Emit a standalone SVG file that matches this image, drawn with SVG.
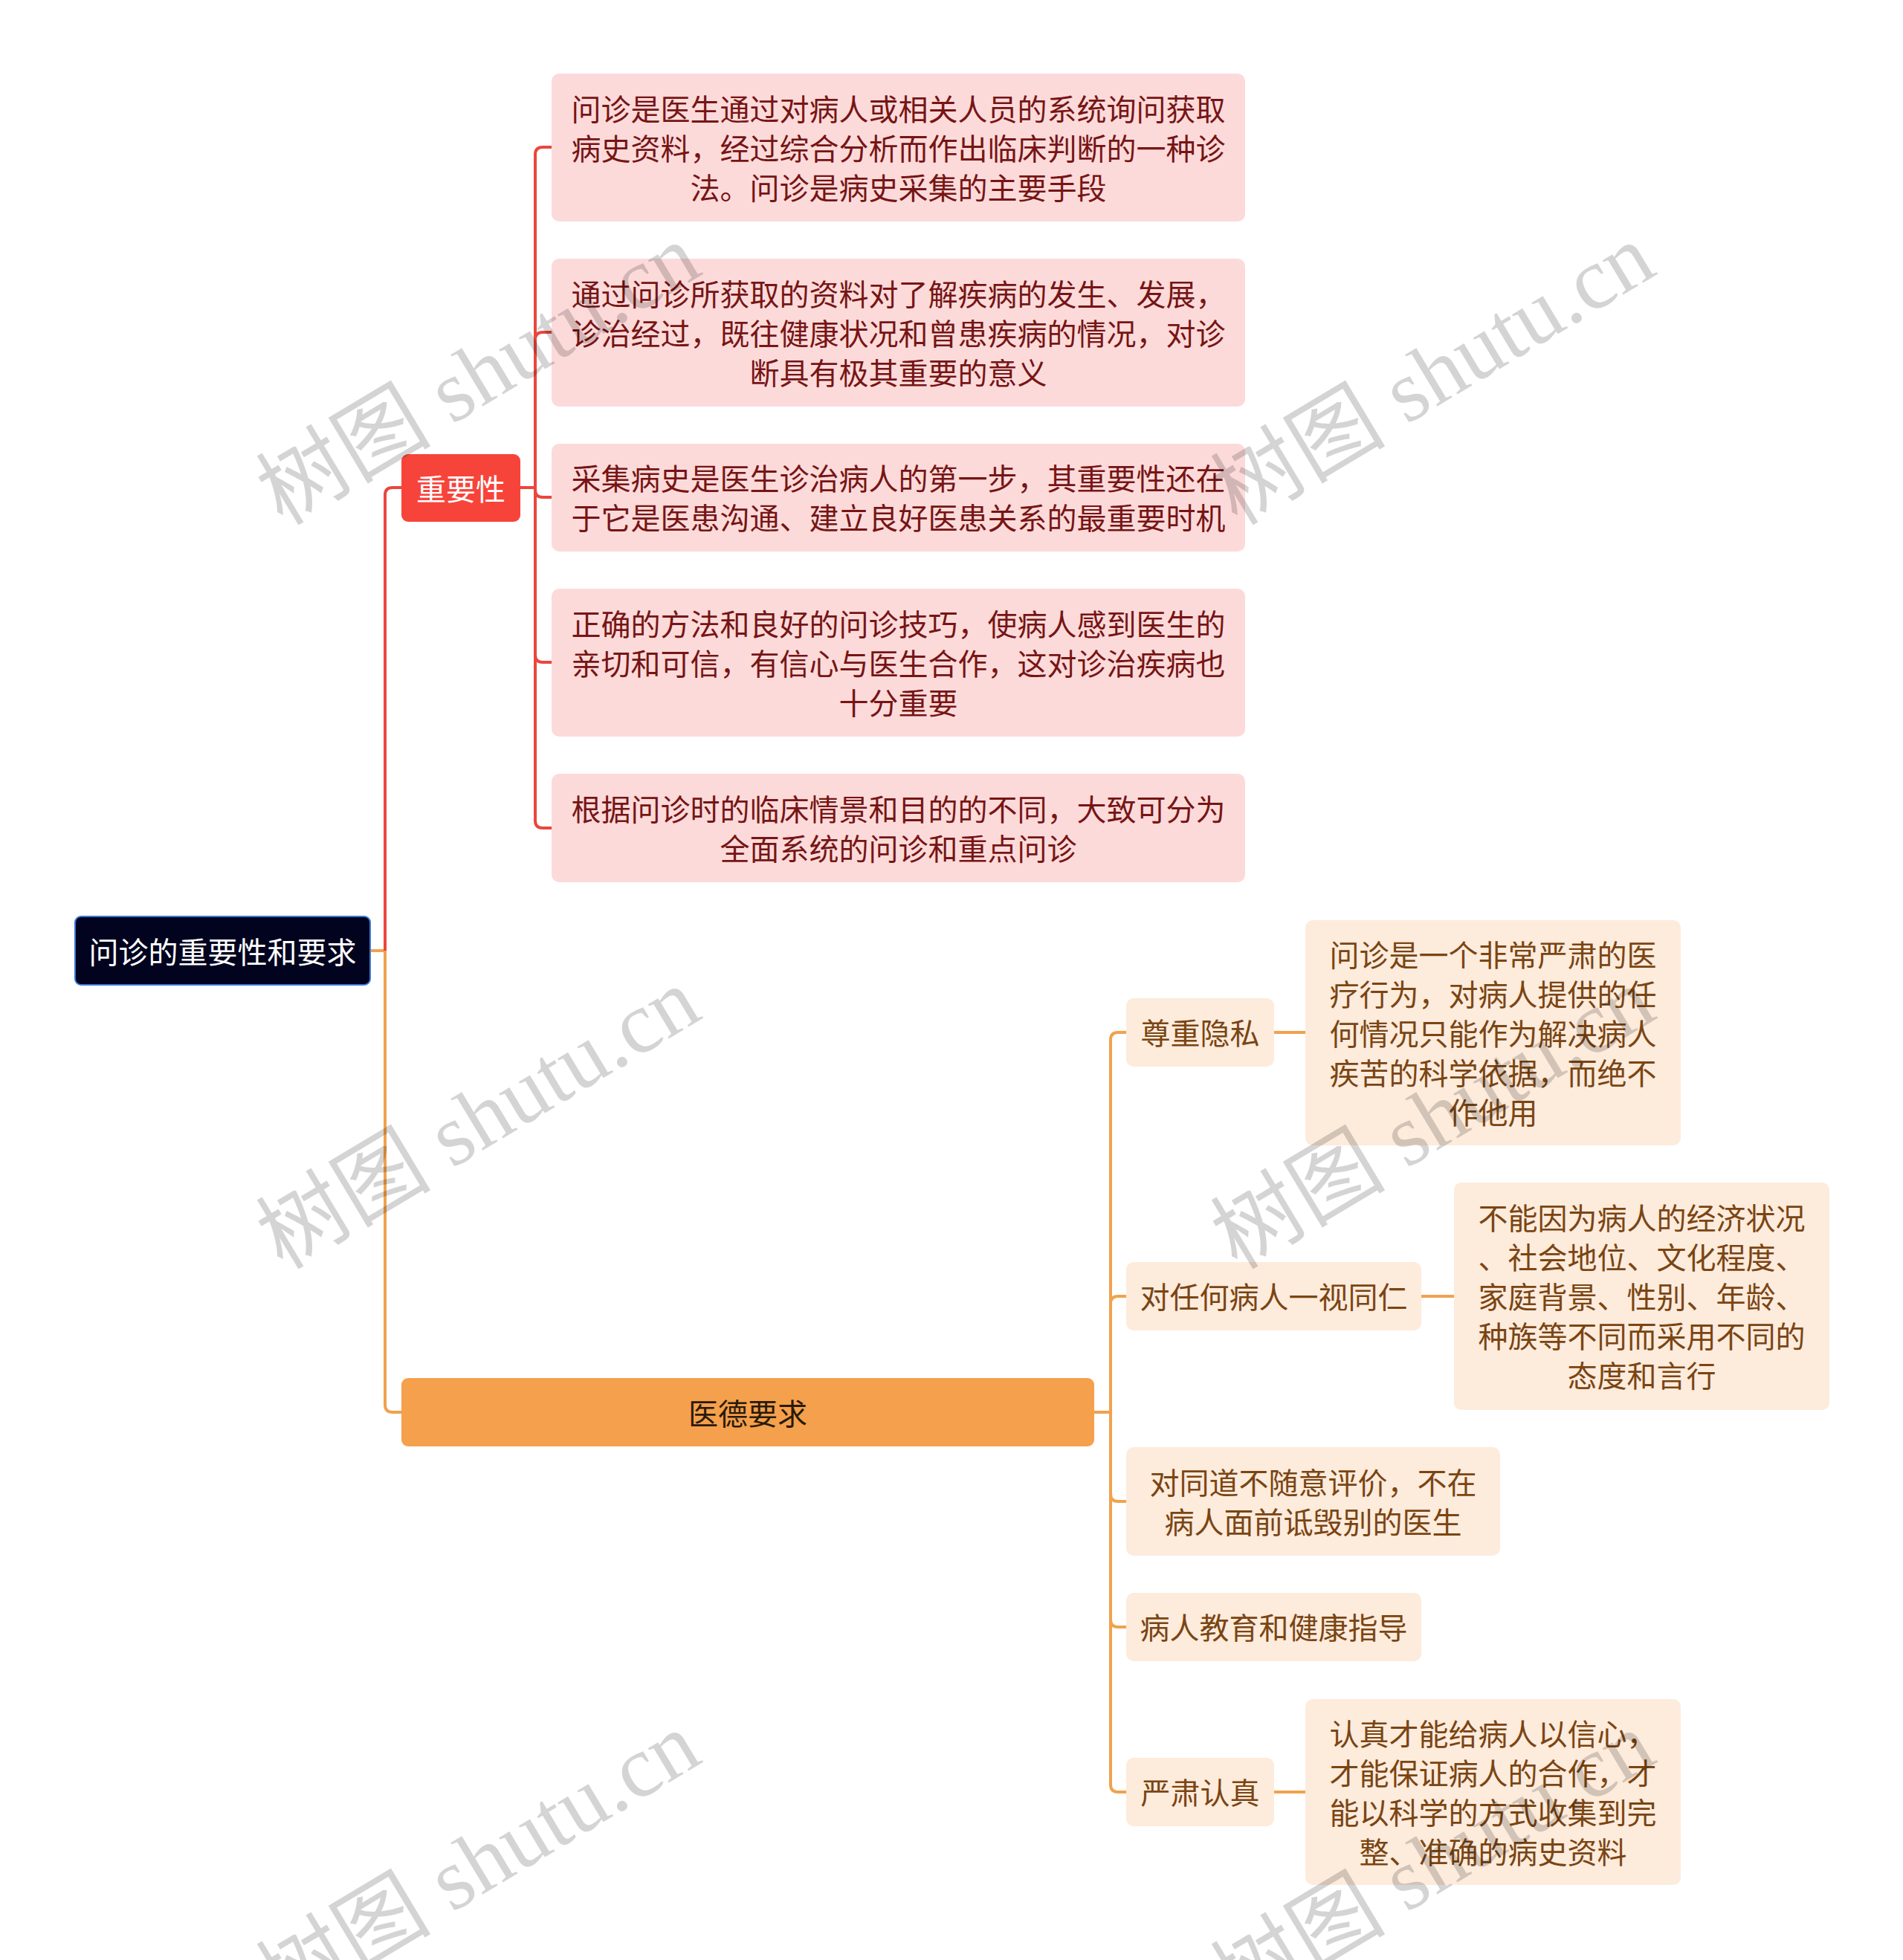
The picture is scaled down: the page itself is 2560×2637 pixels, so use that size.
<svg xmlns="http://www.w3.org/2000/svg" width="2560" height="2637" viewBox="0 0 2560 2637">
<style>
text{font-family:"Noto Sans CJK SC","Noto Sans",sans-serif;font-size:40px;text-anchor:middle;dominant-baseline:central}
.root rect{fill:#02031f;stroke:#3b78d8;stroke-width:2}
.root text{fill:#ffffff}
.l1r rect{fill:#f7443b}
.l1r text{fill:#ffffff}
.l1o rect{fill:#f5a04c}
.l1o text{fill:#2a1a0a}
.pk rect{fill:#fddada}
.pk text{fill:#761515}
.pc rect{fill:#fdebdc}
.pc text{fill:#7a4513}
.cr{fill:none;stroke:#ea463d;stroke-width:4}
.co{fill:none;stroke:#f0a24e;stroke-width:4}
.wm{font-family:"Liberation Serif","Noto Sans CJK SC",serif;font-size:118px;fill:#000000;fill-opacity:0.17;dominant-baseline:auto}
</style>
<rect width="2560" height="2637" fill="#ffffff"/>
<g id="connectors">
<path class="co" d="M498 1279H518"/>
<path class="cr" d="M518 1279V666Q518 656 528 656H540"/>
<path class="co" d="M518 1279V1890Q518 1900 528 1900H540"/>
<path class="cr" d="M700 656H720"/>
<path class="cr" d="M720 656V208Q720 198 730 198H742"/>
<path class="cr" d="M720 656V457Q720 447 730 447H742"/>
<path class="cr" d="M720 656V659Q720 669 730 669H742"/>
<path class="cr" d="M720 656V881Q720 891 730 891H742"/>
<path class="cr" d="M720 656V1104Q720 1114 730 1114H742"/>
<path class="co" d="M1472 1900H1494"/>
<path class="co" d="M1494 1900V1399Q1494 1389 1504 1389H1515"/>
<path class="co" d="M1494 1900V1754Q1494 1744 1504 1744H1515"/>
<path class="co" d="M1494 1900V2010Q1494 2020 1504 2020H1515"/>
<path class="co" d="M1494 1900V2179Q1494 2189 1504 2189H1515"/>
<path class="co" d="M1494 1900V2401Q1494 2411 1504 2411H1515"/>
<path class="co" d="M1714 1389H1756"/>
<path class="co" d="M1912 1744H1956"/>
<path class="co" d="M1714 2411H1756"/>
</g>
<g id="root" class="root"><rect x="101" y="1233" width="397" height="92" rx="8"/><text x="299.5" y="1279">问诊的重要性和要求</text></g>
<g id="n-importance" class="l1r"><rect x="540" y="611" width="160" height="91" rx="9"/><text x="620" y="656">重要性</text></g>
<g id="n-ethics" class="l1o"><rect x="540" y="1854" width="932" height="92" rx="9"/><text x="1006" y="1900">医德要求</text></g>
<g id="p1" class="pk"><rect x="742" y="99" width="933" height="199" rx="10"/><text x="1208.5" y="145">问诊是医生通过对病人或相关人员的系统询问获取</text><text x="1208.5" y="198">病史资料，经过综合分析而作出临床判断的一种诊</text><text x="1208.5" y="251">法。问诊是病史采集的主要手段</text></g>
<g id="p2" class="pk"><rect x="742" y="348" width="933" height="199" rx="10"/><text x="1208.5" y="394">通过问诊所获取的资料对了解疾病的发生、发展，</text><text x="1208.5" y="447">诊治经过，既往健康状况和曾患疾病的情况，对诊</text><text x="1208.5" y="500">断具有极其重要的意义</text></g>
<g id="p3" class="pk"><rect x="742" y="597" width="933" height="145" rx="10"/><text x="1208.5" y="642">采集病史是医生诊治病人的第一步，其重要性还在</text><text x="1208.5" y="695">于它是医患沟通、建立良好医患关系的最重要时机</text></g>
<g id="p4" class="pk"><rect x="742" y="792" width="933" height="199" rx="10"/><text x="1208.5" y="838">正确的方法和良好的问诊技巧，使病人感到医生的</text><text x="1208.5" y="891">亲切和可信，有信心与医生合作，这对诊治疾病也</text><text x="1208.5" y="944">十分重要</text></g>
<g id="p5" class="pk"><rect x="742" y="1041" width="933" height="146" rx="10"/><text x="1208.5" y="1087">根据问诊时的临床情景和目的的不同，大致可分为</text><text x="1208.5" y="1140">全面系统的问诊和重点问诊</text></g>
<g id="o1" class="pc"><rect x="1515" y="1343" width="199" height="92" rx="10"/><text x="1614.5" y="1388">尊重隐私</text></g>
<g id="o1c" class="pc"><rect x="1756" y="1238" width="505" height="303" rx="10"/><text x="2008.5" y="1283">问诊是一个非常严肃的医</text><text x="2008.5" y="1336">疗行为，对病人提供的任</text><text x="2008.5" y="1389">何情况只能作为解决病人</text><text x="2008.5" y="1442">疾苦的科学依据，而绝不</text><text x="2008.5" y="1495">作他用</text></g>
<g id="o2" class="pc"><rect x="1515" y="1698" width="397" height="92" rx="10"/><text x="1713.5" y="1743">对任何病人一视同仁</text></g>
<g id="o2c" class="pc"><rect x="1956" y="1591" width="505" height="306" rx="10"/><text x="2208.5" y="1637">不能因为病人的经济状况</text><text x="2208.5" y="1690">、社会地位、文化程度、</text><text x="2208.5" y="1743">家庭背景、性别、年龄、</text><text x="2208.5" y="1796">种族等不同而采用不同的</text><text x="2208.5" y="1849">态度和言行</text></g>
<g id="o3" class="pc"><rect x="1515" y="1947" width="503" height="146" rx="10"/><text x="1766.5" y="1993">对同道不随意评价，不在</text><text x="1766.5" y="2046">病人面前诋毁别的医生</text></g>
<g id="o4" class="pc"><rect x="1515" y="2143" width="397" height="92" rx="10"/><text x="1713.5" y="2188">病人教育和健康指导</text></g>
<g id="o5" class="pc"><rect x="1515" y="2365" width="199" height="92" rx="10"/><text x="1614.5" y="2410">严肃认真</text></g>
<g id="o5c" class="pc"><rect x="1756" y="2286" width="505" height="250" rx="10"/><text x="2008.5" y="2331">认真才能给病人以信心，</text><text x="2008.5" y="2384">才能保证病人的合作，才</text><text x="2008.5" y="2437">能以科学的方式收集到完</text><text x="2008.5" y="2490">整、准确的病史资料</text></g>
<g id="watermarks">
<text class="wm" transform="translate(664 538) rotate(-31)">树图 shutu.cn</text>
<text class="wm" transform="translate(1948 538) rotate(-31)">树图 shutu.cn</text>
<text class="wm" transform="translate(664 1539) rotate(-31)">树图 shutu.cn</text>
<text class="wm" transform="translate(1948 1539) rotate(-31)">树图 shutu.cn</text>
<text class="wm" transform="translate(664 2540) rotate(-31)">树图 shutu.cn</text>
<text class="wm" transform="translate(1948 2540) rotate(-31)">树图 shutu.cn</text>
</g>
</svg>
